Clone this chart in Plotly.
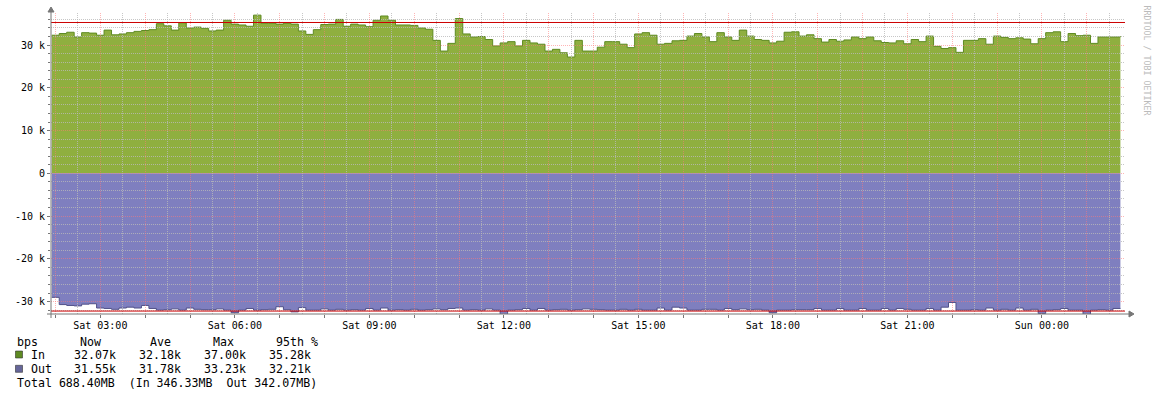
import pandas as pd
import plotly.graph_objects as go

# ---------------- data (kbps, 10-minute samples) ----------------
in_kbps = [32.3, 32.7, 33.0, 31.9, 32.9, 32.8, 32.3, 33.5, 32.4, 32.6,
           32.9, 33.2, 33.4, 33.6, 35.0, 34.5, 33.5, 35.2, 34.0, 34.2,
           33.9, 33.3, 33.5, 35.8, 34.9, 34.7, 34.4, 37.0, 35.1, 35.1,
           34.9, 35.1, 34.9, 33.3, 32.5, 33.6, 34.8, 34.9, 36.0, 34.4,
           34.9, 34.7, 34.3, 35.8, 36.8, 35.8, 34.7, 34.7, 34.6, 34.0,
           33.7, 31.1, 28.6, 30.4, 36.2, 32.6, 31.9, 32.0, 31.3, 29.8,
           30.5, 30.8, 29.8, 31.1, 30.5, 30.2, 28.6, 29.0, 28.2, 27.2,
           31.1, 28.6, 28.6, 29.5, 30.8, 30.8, 30.2, 29.4, 32.6, 32.9,
           32.3, 30.2, 30.4, 31.0, 31.1, 32.1, 32.7, 31.9, 30.8, 32.9,
           31.9, 31.1, 33.5, 32.1, 31.3, 31.1, 30.5, 30.9, 33.0, 33.1,
           32.1, 32.4, 31.5, 30.7, 31.3, 30.9, 31.2, 31.9, 31.5, 31.9,
           31.0, 30.6, 30.5, 31.0, 30.3, 31.3, 30.8, 32.1, 29.7, 29.2,
           29.4, 28.3, 31.1, 31.1, 31.5, 30.2, 32.1, 31.8, 31.5, 31.7,
           31.4, 30.3, 31.5, 32.9, 33.1, 30.8, 32.7, 32.2, 32.3, 30.4,
           31.9, 31.9, 31.9, 32.07]

out_kbps = [29.0, 30.7, 30.9, 31.0, 30.6, 30.5, 31.5, 31.6, 31.8, 31.5,
            31.3, 31.5, 30.9, 31.6, 32.0, 31.9, 31.7, 32.0, 31.5, 31.8,
            31.9, 31.9, 31.7, 32.0, 32.6, 32.0, 31.6, 32.0, 31.9, 31.8,
            31.2, 31.9, 32.4, 31.4, 32.0, 32.0, 31.7, 32.0, 31.8, 32.0,
            31.9, 32.0, 31.6, 32.0, 31.5, 32.0, 31.9, 32.0, 31.8, 32.0,
            31.9, 31.7, 31.9, 31.6, 31.5, 32.0, 31.9, 32.0, 31.7, 32.0,
            33.2, 32.0, 31.9, 31.6, 32.0, 31.6, 32.0, 31.9, 31.8, 32.0,
            31.9, 31.7, 31.8, 31.9, 32.0, 32.0, 31.8, 32.0, 31.8, 32.0,
            32.0, 31.5, 32.0, 31.3, 31.5, 32.0, 32.0, 31.8, 31.8, 32.0,
            31.6, 31.9, 31.7, 31.9, 31.8, 32.0, 32.6, 32.0, 32.0, 31.9,
            31.9, 31.9, 31.6, 32.0, 32.0, 31.6, 32.0, 32.0, 31.6, 32.0,
            32.0, 31.6, 32.0, 31.6, 31.8, 32.0, 32.0, 31.6, 32.0, 31.3,
            30.2, 32.0, 32.0, 31.9, 32.0, 31.5, 32.0, 31.8, 32.0, 31.5,
            32.0, 31.8, 32.8, 32.0, 31.9, 31.6, 32.0, 32.0, 33.2, 32.0,
            31.9, 32.0, 31.6, 31.55]

p95_in = 35.28
p95_out = 32.21

sample_start = "2024-01-06 01:55"
sample_step = "10min"
x_range = ["2024-01-06 01:54:00", "2024-01-07 01:51:10"]
y_range = [-32.9, 37.5]

y_tick_vals = [-30, -20, -10, 0, 10, 20, 30]
y_tick_text = ["-30 k", "-20 k", "-10 k", "0", "10 k", "20 k", "30 k"]

stat_header = ["bps", "Now", "Ave", "Max", "95th %"]
in_stats = ["32.07k", "32.18k", "37.00k", "35.28k"]
out_stats = ["31.55k", "31.78k", "33.23k", "32.21k"]
total_text = "Total 688.40MB  (In 346.33MB  Out 342.07MB)"
watermark = "RRDTOOL / TOBI OETIKER"

# ---------------- styling ----------------
W, H = 1156, 397
PL, PR, PT, PB = 51, 1125, 13, 314
MONO = "DejaVu Sans Mono"
IN_FILL, IN_LINE, IN_KEY = "#8FAF3F", "#5E8A22", "#5E8A22"
OUT_FILL, OUT_LINE, OUT_KEY = "#7F7FBF", "#505088", "#666699"
RED = "#CC0000"
AXIS = "#777777"
MAJOR_GRID = "rgba(255,120,120,0.55)"
MINOR_GRID = "rgba(185,185,185,0.80)"
CLEAR = "rgba(0,0,0,0)"


def px_x(p):
    return (p - PL) / (PR - PL)


def px_y(p):
    return (PB - p) / (PB - PT)


times = pd.date_range(sample_start, periods=len(in_kbps), freq=sample_step)

fig = go.Figure()
fig.add_trace(go.Scatter(
    x=times, y=in_kbps, mode="lines", line=dict(color=IN_LINE, width=1, shape="hv"),
    fill="tozeroy", fillcolor=IN_FILL, hoverinfo="skip", showlegend=False))
fig.add_trace(go.Scatter(
    x=times, y=[-v for v in out_kbps], mode="lines",
    line=dict(color=OUT_LINE, width=1, shape="hv"),
    fill="tozeroy", fillcolor=OUT_FILL, hoverinfo="skip", showlegend=False))

# grid subplot (drawn above the areas) + percentile lines
fig.add_trace(go.Scatter(
    x=x_range, y=[p95_in, p95_in], mode="lines", line=dict(color=RED, width=1),
    xaxis="x2", yaxis="y2", hoverinfo="skip", showlegend=False))
fig.add_trace(go.Scatter(
    x=x_range, y=[-p95_out, -p95_out], mode="lines", line=dict(color=RED, width=1),
    xaxis="x2", yaxis="y2", hoverinfo="skip", showlegend=False))

tickfont = dict(family=MONO, size=10, color="#000000")

fig.update_layout(
    width=W, height=H,
    margin=dict(l=PL, r=W - PR, t=PT, b=H - PB),
    paper_bgcolor="white", plot_bgcolor=CLEAR,
    showlegend=False,
    xaxis=dict(
        type="date", range=x_range, domain=[0, 1], anchor="y",
        showgrid=False, zeroline=False, showline=False,
        tickmode="linear", tick0="2024-01-06 03:00", dtick=3 * 3600000,
        tickformat="%a %H:%M", ticks="outside", ticklen=2, tickcolor=CLEAR,
        tickfont=tickfont, fixedrange=True,
    ),
    yaxis=dict(
        range=y_range, domain=[0, 1], anchor="x",
        showgrid=False, zeroline=False, showline=False,
        tickmode="array", tickvals=y_tick_vals, ticktext=y_tick_text,
        ticks="outside", ticklen=3, tickcolor=AXIS,
        minor=dict(tickmode="linear", tick0=0, dtick=2, ticks="outside",
                   ticklen=2, tickcolor=AXIS),
        tickfont=tickfont, fixedrange=True,
    ),
    xaxis2=dict(
        type="date", range=x_range, domain=[0, 1], anchor="y2",
        showticklabels=False, ticks="outside", ticklen=3, tickcolor=AXIS,
        zeroline=False, showline=False,
        tickmode="linear", tick0="2024-01-06 00:00", dtick=3600000,
        showgrid=True, gridcolor=MAJOR_GRID, gridwidth=1, griddash="1px,1px",
        minor=dict(dtick=1800000, tick0="2024-01-06 00:00", showgrid=True,
                   gridcolor=MINOR_GRID, gridwidth=1, griddash="1px,1px"),
        fixedrange=True,
    ),
    yaxis2=dict(
        range=y_range, domain=[0, 1], anchor="x2",
        showticklabels=False, ticks="", zeroline=False, showline=False,
        tickmode="linear", tick0=0, dtick=10,
        showgrid=True, gridcolor=MAJOR_GRID, gridwidth=1, griddash="1px,1px",
        minor=dict(tickmode="linear", tick0=0, dtick=2, showgrid=True,
                   gridcolor=MINOR_GRID, gridwidth=1, griddash="1px,1px"),
        fixedrange=True,
    ),
)

# axis lines with arrows
shapes = [
    dict(type="line", xref="paper", yref="paper", x0=px_x(47), x1=px_x(1129),
         y0=px_y(314), y1=px_y(314), line=dict(color=AXIS, width=1), layer="above"),
    dict(type="path", xref="paper", yref="paper",
         path="M {a},{b} L {c},{d} L {e},{f} Z".format(
             a=px_x(1129), b=px_y(311), c=px_x(1134), d=px_y(314), e=px_x(1129), f=px_y(317)),
         fillcolor=AXIS, line=dict(color=AXIS, width=1), layer="above"),
    dict(type="line", xref="paper", yref="paper", x0=px_x(51), x1=px_x(51),
         y0=px_y(318), y1=px_y(12), line=dict(color=AXIS, width=1), layer="above"),
    dict(type="path", xref="paper", yref="paper",
         path="M {a},{b} L {c},{d} L {e},{f} Z".format(
             a=px_x(48), b=px_y(12), c=px_x(51), d=px_y(7), e=px_x(54), f=px_y(12)),
         fillcolor=AXIS, line=dict(color=AXIS, width=1), layer="above"),
    # legend colour keys
    dict(type="rect", xref="paper", yref="paper", x0=px_x(15.5), x1=px_x(22.5),
         y0=px_y(358), y1=px_y(351), fillcolor=IN_KEY, line=dict(color="#333333", width=0.6)),
    dict(type="rect", xref="paper", yref="paper", x0=px_x(15.5), x1=px_x(22.5),
         y0=px_y(372.3), y1=px_y(365.3), fillcolor=OUT_KEY, line=dict(color="#333333", width=0.6)),
]
fig.update_layout(shapes=shapes)

LEG = dict(family=MONO, size=11.6, color="#000000")
annotations = []


def text_at(px, py, txt, font=LEG, **kw):
    annotations.append(dict(
        xref="paper", yref="paper", x=px_x(px), y=px_y(py), text=txt.replace(" ", "\u00a0"),
        showarrow=False, xanchor="left", yanchor="middle", borderpad=0, font=font, **kw))


header_x = [16, 78.5, 148.5, 211.5, 274.5]
for hx, ht in zip(header_x, stat_header):
    text_at(hx, 341.5, ht)
value_x = [73, 138, 203, 268]
text_at(30.2, 355, "In")
for vx, vt in zip(value_x, in_stats):
    text_at(vx, 355, vt)
text_at(30.2, 369, "Out")
for vx, vt in zip(value_x, out_stats):
    text_at(vx, 369, vt)
text_at(16, 383, total_text)

annotations.append(dict(
    xref="paper", yref="paper", x=px_x(1146.5), y=px_y(60), text=watermark.replace(" ", "\u00a0"),
    showarrow=False, textangle=90, xanchor="center", yanchor="middle",
    font=dict(family=MONO, size=8.3, color="#BBBBBB")))

fig.update_layout(annotations=annotations)

fig.write_html("out.html", config={"displayModeBar": False, "staticPlot": True})
